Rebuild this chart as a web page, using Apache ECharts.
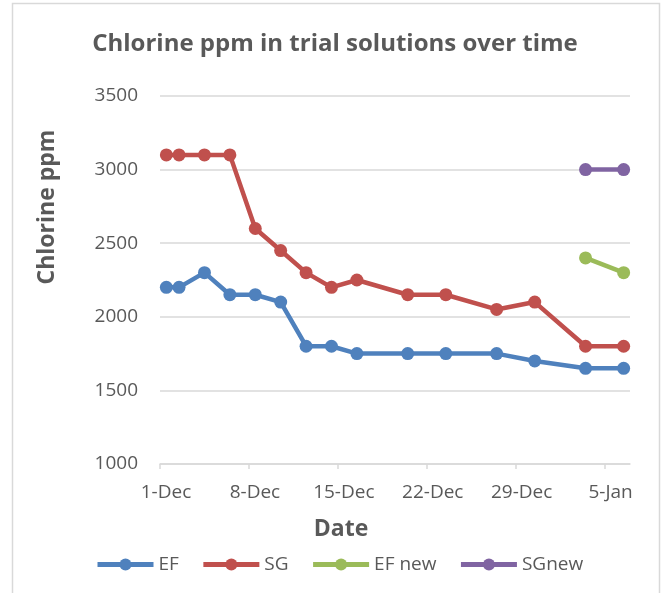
<!DOCTYPE html>
<html>
<head>
<meta charset="utf-8">
<script src="https://cdn.jsdelivr.net/npm/echarts@6/dist/echarts.min.js"></script>
<style>
  html, body { margin: 0; padding: 0; background: #fff; }
  #chart { width: 661px; height: 593px; }
</style>
</head>
<body>
<div id="chart"></div>
<script>
  // sampling dates (day offset from 1-Dec) and readings
  const dates = ['1-Dec', '2-Dec', '4-Dec', '6-Dec', '8-Dec', '10-Dec', '12-Dec', '14-Dec',
    '16-Dec', '20-Dec', '23-Dec', '27-Dec', '30-Dec', '3-Jan', '6-Jan']
  const dayIndex = [0, 1, 3, 5, 7, 9, 11, 13, 15, 19, 22, 26, 29, 33, 36]
  const efValues = [2200, 2200, 2300, 2150, 2150, 2100, 1800, 1800, 1750, 1750, 1750, 1750, 1700, 1650, 1650]
  const sgValues = [3100, 3100, 3100, 3100, 2600, 2450, 2300, 2200, 2250, 2150, 2150, 2050, 2100, 1800, 1800]
  const newDayIndex = [33, 36]
  const efNewValues = [2400, 2300]
  const sgNewValues = [3000, 3000]
  const tickLabels = ['1-Dec', '8-Dec', '15-Dec', '22-Dec', '29-Dec', '5-Jan']

  const font = '"Open Sans", "Noto Sans", sans-serif'
  const textColor = '#595959'
  const gridColor = '#d9d9d9'

  // Excel date axis: each point sits in the middle of its day
  function pairs(days, values) {
    return days.map((d, i) => [d + 0.5, values[i]])
  }

  function lineSeries(name, color, data) {
    return {
      name: name,
      type: 'line',
      data: data,
      symbol: 'circle',
      symbolSize: 13,
      itemStyle: { color: color },
      lineStyle: { color: color, width: 4.5 },
      emphasis: { disabled: true }
    }
  }

  const chart = echarts.init(document.getElementById('chart'))
  const option = {
    animation: false,
    textStyle: { fontFamily: font },
    title: {
      text: 'Chlorine ppm in trial solutions over time',
      left: 330,
      top: 27,
      textAlign: 'center',
      textStyle: { fontFamily: font, fontSize: 24, fontWeight: 'bold', color: textColor }
    },
    graphic: [{
      type: 'rect',
      shape: { x: 12.5, y: 3.5, width: 647, height: 620 },
      style: { fill: 'none', stroke: gridColor, lineWidth: 1.5 },
      silent: true
    }],
    grid: { left: 160, right: 31, top: 96, bottom: 129 },
    legend: {
      left: 95,
      top: 555,
      padding: 0,
      itemWidth: 56,
      itemHeight: 15,
      itemGap: 22,
      lineStyle: { width: 5 },
      textStyle: { fontFamily: font, fontSize: 19, color: textColor },
      data: ['EF', 'SG', 'EF new', 'SGnew']
    },
    xAxis: {
      type: 'value',
      min: 0,
      max: 37,
      interval: 7,
      name: 'Date',
      nameLocation: 'middle',
      nameGap: 54,
      nameTextStyle: { fontFamily: font, fontSize: 23, fontWeight: 'bold', color: textColor, padding: [0, 108, 0, 0] },
      axisLine: { lineStyle: { color: gridColor, width: 1.5 } },
      axisTick: { show: true, length: 5, lineStyle: { color: gridColor, width: 1.5 } },
      splitLine: { show: false },
      axisLabel: {
        fontFamily: font,
        fontSize: 19,
        color: textColor,
        margin: 19,
        padding: [0, 0, 0, 12],
        formatter: v => tickLabels[Math.round(v / 7)] || ''
      }
    },
    yAxis: {
      type: 'value',
      min: 1000,
      max: 3500,
      interval: 500,
      name: 'Chlorine ppm',
      nameLocation: 'middle',
      nameRotate: 90,
      nameGap: 101,
      nameTextStyle: { fontFamily: font, fontSize: 23, fontWeight: 'bold', color: textColor, padding: [0, 0, 0, 146] },
      axisLine: { show: false },
      axisTick: { show: false },
      splitLine: { lineStyle: { color: gridColor, width: 1.5 } },
      axisLabel: { fontFamily: font, fontSize: 19, color: textColor, margin: 22, formatter: v => String(v) }
    },
    series: [
      lineSeries('EF', '#4F81BD', pairs(dayIndex, efValues)),
      lineSeries('SG', '#C0504D', pairs(dayIndex, sgValues)),
      lineSeries('EF new', '#9BBB59', pairs(newDayIndex, efNewValues)),
      lineSeries('SGnew', '#8064A2', pairs(newDayIndex, sgNewValues))
    ]
  }
  chart.setOption(option)
</script>
</body>
</html>
